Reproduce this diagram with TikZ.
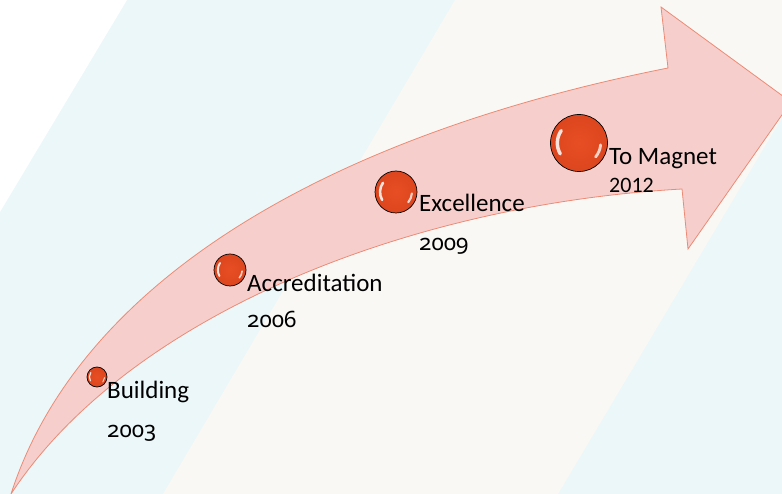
\documentclass[tikz,border=0pt]{standalone}
\usepackage{fontspec}
\setmainfont{Carlito}
\newfontfamily\oldnum[Numbers=OldStyle]{Noto Sans}
\definecolor{bgcyan}{HTML}{EBF7F9}
\definecolor{bgcream}{HTML}{FAF8F4}
\definecolor{arrowfill}{HTML}{F6CFCD}
\definecolor{arrowedge}{HTML}{EE8A74}
\definecolor{ballred}{HTML}{E84E24}
\definecolor{balldark}{HTML}{DC461E}
\newcommand\ballshine[2]{%
  \draw[white, opacity=0.85, line width=0.12*#2, line cap=round]
    ([shift={(215:0.76*#2)}]#1.center) arc[start angle=215, end angle=150, radius=0.76*#2];
  \draw[white, opacity=0.75, line width=0.1*#2, line cap=round]
    ([shift={(40:0.76*#2)}]#1.center) arc[start angle=40, end angle=5, radius=0.76*#2];
}
\begin{document}
\begin{tikzpicture}[x=1pt,y=-1pt,
  ball/.style={circle, draw=black, line width=0.7pt, inner sep=0pt,
    inner color=ballred, outer color=balldark},
  lbl/.style={anchor=base west, inner sep=0pt, font=\fontsize{25}{30}\selectfont},
  yr/.style={anchor=base west, inner sep=0pt, font=\oldnum\fontsize{22.5}{27}\selectfont},
  yrsmall/.style={anchor=base west, inner sep=0pt, font=\fontsize{22}{26}\selectfont}]
\useasboundingbox (0,0) rectangle (782,494);
\clip (0,0) rectangle (782,494);
% background bands
\fill[bgcyan] (0,0) rectangle (782,494);
\fill[white] (0,0) -- (127,0) -- (0,212) -- cycle;
\fill[bgcream] (455,0) -- (852,0) -- (558,494) -- (163,494) -- cycle;
% curved arrow
\draw[arrowedge, fill=arrowfill, line width=0.8pt, line join=miter]
  (11,494) .. controls (80,280) and (330,135) .. (668,68)
  -- (661,7) -- (791,102) -- (688,249) -- (682,189)
  .. controls (400,205) and (125,320) .. (11,494) -- cycle;
% milestones
\node[ball, minimum size=20pt] (b1) at (97,377) {};
\node[ball, minimum size=32pt] (b2) at (230,270) {};
\node[ball, minimum size=42pt] (b3) at (396,192) {};
\node[ball, minimum size=57pt] (b4) at (579,143) {};
\ballshine{b1}{10}
\ballshine{b2}{16}
\ballshine{b3}{21}
\ballshine{b4}{28.5}
% labels
\node[lbl] (l1) at (107,398) {Building};
\node[yr] (y1) at (107,437) {2003};
\node[lbl] (l2) at (247,292) {Accreditation};
\node[yr] (y2) at (247,328) {2006};
\node[lbl] (l3) at (419,212) {Excellence};
\node[yr] (y3) at (419,251) {2009};
\node[lbl] (l4) at (609,165) {To Magnet};
\node[yrsmall] (y4) at (609,193) {2012};
\end{tikzpicture}
\end{document}
